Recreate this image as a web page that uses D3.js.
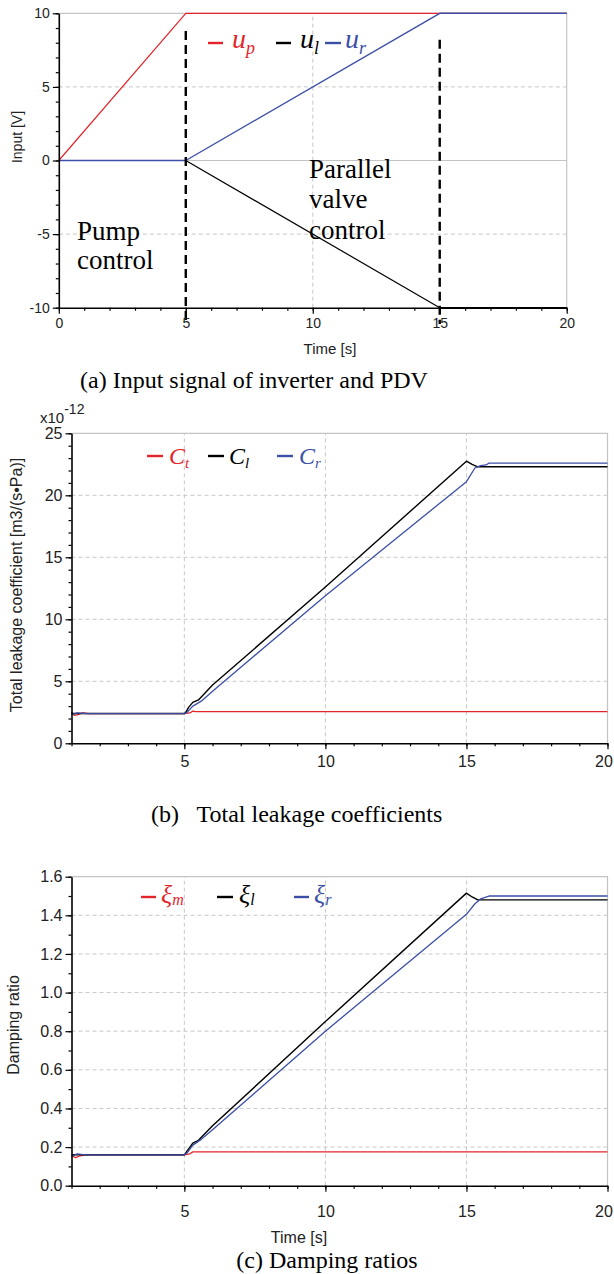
<!DOCTYPE html>
<html><head><meta charset="utf-8">
<script src="https://cdn.jsdelivr.net/npm/d3@7"></script>
<style>body{margin:0;background:#fff;} svg{display:block}</style>
</head><body><svg id="chart" width="614" height="1274"></svg>
<script>
// ---------------- DATA ----------------
// (a) input signals
const timeA = [0, 5, 15, 20];
const uP = [0, 10, 10, 10];
const uL = [0, 0, -10, -10];
const uR = [0, 0, 10, 10];
const dividerTimes = [5, 15];
const aXTicks = [0, 5, 10, 15, 20];
const aYTicks = [-10, -5, 0, 5, 10];

// (b) total leakage coefficients (x1e-12)
const ctTime = [1, 1.1, 1.2, 1.4, 1.6, 5, 5.2, 5.3, 5.4, 20];
const ctVal  = [2.5, 2.25, 2.3, 2.45, 2.4, 2.4, 2.45, 2.6, 2.55, 2.55];
const clTime = [1, 5, 5.05, 5.15, 5.3, 5.5, 6, 10, 15, 15.2, 15.4, 20];
const clVal  = [2.4, 2.4, 2.5, 2.9, 3.3, 3.5, 4.7, 12.6, 22.75, 22.5, 22.3, 22.3];
const crTime = [1, 1.2, 1.5, 5, 5.1, 5.3, 5.6, 6, 10, 15, 15.3, 15.5, 15.7, 15.8, 20];
const crVal  = [2.3, 2.45, 2.4, 2.4, 2.5, 3.0, 3.4, 4.2, 11.9, 21.1, 22.2, 22.4, 22.45, 22.6, 22.6];
const bXTicks = [5, 10, 15, 20];
const bYTicks = [0, 5, 10, 15, 20, 25];

// (c) damping ratios
const xmTime = [1, 1.15, 1.3, 1.5, 5, 5.2, 5.3, 20];
const xmVal  = [0.155, 0.145, 0.155, 0.16, 0.16, 0.165, 0.175, 0.175];
const xlTime = [1, 5, 5.1, 5.3, 5.5, 6, 10, 15, 15.2, 15.4, 20];
const xlVal  = [0.16, 0.16, 0.18, 0.22, 0.235, 0.31, 0.85, 1.515, 1.495, 1.48, 1.48];
const xrTime = [1, 1.2, 1.5, 5, 5.1, 5.3, 5.6, 6, 10, 15, 15.3, 15.5, 15.8, 20];
const xrVal  = [0.15, 0.165, 0.16, 0.16, 0.17, 0.21, 0.24, 0.29, 0.80, 1.405, 1.46, 1.485, 1.5, 1.5];
const cXTicks = [5, 10, 15, 20];
const cYTicks = [0, 0.2, 0.4, 0.6, 0.8, 1.0, 1.2, 1.4, 1.6];

// ---------------- DRAW ----------------
const RED = "#e3252b", BLACK = "#000", BLUE = "#3c4fa6";
const SANS = "'Liberation Sans Narrow','Arial Narrow','Liberation Sans',Arial,sans-serif";
const SERIF = "'Liberation Serif','Times New Roman',serif";
const svg = d3.select("#chart");
const W = 614;

function zip(t, v) { return t.map((d, i) => [d, v[i]]); }
const hyphen = f => d => f(d).replace("\u2212", "-");

function panel(o) {
  const x = d3.scaleLinear().domain(o.xd).range(o.xr);
  const y = d3.scaleLinear().domain(o.yd).range(o.yr);
  const g = svg.append("g");
  const X0 = o.xr[0], X1 = o.xr[1], Y0 = o.yr[0], Y1 = o.yr[1];
  g.append("path").attr("d", `M${X0},${Y1}H${X1}V${Y0}`)
    .attr("fill", "none").attr("stroke", "#c4c4c4").attr("stroke-width", 1.2);
  o.gridX.forEach(v => g.append("line").attr("x1", x(v)).attr("x2", x(v)).attr("y1", Y0).attr("y2", Y1)
    .attr("stroke", "#c8c8c8").attr("stroke-width", 1).attr("stroke-dasharray", "4,3"));
  o.gridY.forEach(v => g.append("line").attr("x1", X0).attr("x2", X1).attr("y1", y(v)).attr("y2", y(v))
    .attr("stroke", "#c8c8c8").attr("stroke-width", 1).attr("stroke-dasharray", "4,3"));
  (o.solidY || []).forEach(v => g.append("line").attr("x1", X0).attr("x2", X1).attr("y1", y(v)).attr("y2", y(v))
    .attr("stroke", "#c4c4c4").attr("stroke-width", 1.2));
  const line = d3.line().x(d => x(d[0])).y(d => y(d[1]));
  o.series.forEach(s => g.append("path").datum(s.data).attr("d", line)
    .attr("fill", "none").attr("stroke", s.color).attr("stroke-width", s.w || 1.3)
    .attr("stroke-linejoin", "round"));
  if (o.extra) o.extra(g, x, y);
  const minorX = d3.range(o.xd[0], o.xd[1] + 0.001, o.xMinor);
  const minorY = d3.range(o.yd[0], o.yd[1] + 1e-9, o.yMinor);
  const ax1 = g.append("g").attr("transform", `translate(0,${Y0})`)
    .call(d3.axisBottom(x).tickValues(minorX).tickSize(3).tickFormat(""));
  ax1.select(".domain").remove();
  const ay1 = g.append("g").attr("transform", `translate(${X0},0)`)
    .call(d3.axisLeft(y).tickValues(minorY).tickSize(3).tickFormat(""));
  ay1.select(".domain").remove();
  const ax = g.append("g").attr("transform", `translate(0,${Y0})`)
    .call(d3.axisBottom(x).tickValues(o.xTicks).tickSize(6).tickSizeOuter(0).tickPadding(o.xPad).tickFormat(hyphen(d3.format("d"))));
  const ay = g.append("g").attr("transform", `translate(${X0},0)`)
    .call(d3.axisLeft(y).tickValues(o.yTicks).tickSize(6).tickSizeOuter(0).tickPadding(3).tickFormat(hyphen(o.yFmt)));
  [ax, ay, ax1, ay1].forEach(a => {
    a.selectAll("line").attr("stroke", "#000").attr("stroke-width", 1.2);
    a.selectAll(".domain").attr("stroke", "#000").attr("stroke-width", 1.6);
    a.selectAll("text").attr("font-family", SANS).attr("font-size", o.fs).attr("fill", "#222");
  });
  // keep the last x label inside the page
  ax.selectAll(".tick text").each(function () {
    const bb = this.getBBox();
    const tx = +this.parentNode.getAttribute("transform").match(/translate\(([-\d.]+)/)[1];
    const over = tx + bb.x + bb.width - (W - 1);
    if (over > 0) d3.select(this).attr("x", -over);
  });
  o.legend.forEach(l => {
    g.append("line").attr("x1", l.x).attr("x2", l.x + l.len).attr("y1", l.y).attr("y2", l.y)
      .attr("stroke", l.color).attr("stroke-width", 2.4);
    const t = g.append("text").attr("x", l.x + l.len + l.gap).attr("y", l.y + l.dy)
      .attr("font-family", SERIF).attr("font-style", "italic").attr("fill", l.color);
    t.append("tspan").attr("font-size", l.fs).text(l.main);
    t.append("tspan").attr("font-size", l.sfs).attr("dy", l.sdy).text(l.sub);
  });
  return { x, y, g };
}

// ---- (a)
panel({
  xd: [0, 20], xr: [58.8, 566.7], yd: [-10, 10], yr: [307.7, 13.3],
  gridX: [10], gridY: [5, -5], solidY: [0],
  xTicks: aXTicks, yTicks: aYTicks, yFmt: d3.format("d"), xMinor: 1, yMinor: 1, fs: 14, xPad: 4,
  series: [
    { data: zip(timeA, uL), color: BLACK, w: 1.2 },
    { data: zip(timeA, uP), color: RED, w: 1.2 },
    { data: zip(timeA, uR), color: BLUE, w: 1.4 }
  ],
  extra: (g, x, y) => {
    dividerTimes.forEach((t, i) => g.append("line").attr("x1", x(t)).attr("x2", x(t))
      .attr("y1", y(i === 0 ? 8.8 : 8.2)).attr("y2", 324)
      .attr("stroke", "#000").attr("stroke-width", 2.4).attr("stroke-dasharray", "9,5"));
  },
  legend: [
    { x: 208, y: 43, len: 15, gap: 9, color: RED, main: "u", sub: "p", fs: 28, sfs: 18, dy: 5, sdy: 6 },
    { x: 276, y: 43, len: 15, gap: 9, color: BLACK, main: "u", sub: "l", fs: 28, sfs: 18, dy: 5, sdy: 6 },
    { x: 325, y: 43, len: 16, gap: 4, color: BLUE, main: "u", sub: "r", fs: 28, sfs: 18, dy: 5, sdy: 6 }
  ]
});
const ann = svg.append("g").attr("font-family", SERIF).attr("font-size", 27).attr("fill", "#000");
ann.append("text").attr("x", 77).attr("y", 240).text("Pump");
ann.append("text").attr("x", 77).attr("y", 269).text("control");
ann.append("text").attr("x", 309).attr("y", 178).text("Parallel");
ann.append("text").attr("x", 309).attr("y", 208).text("valve");
ann.append("text").attr("x", 309).attr("y", 239).text("control");
svg.append("text").attr("transform", "translate(22,137) rotate(-90)").attr("text-anchor", "middle")
  .attr("font-family", SANS).attr("font-size", 14).attr("fill", "#222").text("Input [V]");
svg.append("text").attr("x", 330).attr("y", 354).attr("text-anchor", "middle")
  .attr("font-family", SANS).attr("font-size", 15).attr("fill", "#222").text("Time [s]");
svg.append("text").attr("x", 80).attr("y", 388).attr("font-family", SERIF).attr("font-size", 24)
  .attr("fill", "#000").text("(a) Input signal of inverter and PDV");

// ---- (b)
panel({
  xd: [1, 20], xr: [71.5, 607.5], yd: [0, 25], yr: [743.3, 433.3],
  gridX: [5, 10, 15], gridY: [5, 10, 15, 20],
  xTicks: bXTicks, yTicks: bYTicks, yFmt: d3.format("d"), xMinor: 1, yMinor: 1, fs: 16, xPad: 6,
  series: [
    { data: zip(ctTime, ctVal), color: RED, w: 1.3 },
    { data: zip(clTime, clVal), color: BLACK, w: 1.4 },
    { data: zip(crTime, crVal), color: BLUE, w: 1.3 }
  ],
  legend: [
    { x: 147, y: 456, len: 16, gap: 6, color: RED, main: "C", sub: "t", fs: 24, sfs: 15, dy: 8, sdy: 4 },
    { x: 208, y: 456, len: 16, gap: 5, color: BLACK, main: "C", sub: "l", fs: 24, sfs: 15, dy: 8, sdy: 4 },
    { x: 277, y: 456, len: 16, gap: 6, color: BLUE, main: "C", sub: "r", fs: 24, sfs: 15, dy: 8, sdy: 4 }
  ]
});
const sc = svg.append("text").attr("x", 40).attr("y", 423).attr("font-family", SANS).attr("font-size", 15).attr("fill", "#222");
sc.append("tspan").text("x10");
sc.append("tspan").attr("dy", -9).attr("font-size", 14).text("-12");
svg.append("text").attr("transform", "translate(22,585) rotate(-90)").attr("text-anchor", "middle")
  .attr("font-family", SANS).attr("font-size", 16).attr("fill", "#222").text("Total leakage coefficient [m3/(s\u2022Pa)]");
svg.append("text").attr("x", 151).attr("y", 822).attr("font-family", SERIF).attr("font-size", 24)
  .attr("fill", "#000").style("white-space", "pre").text("(b)   Total leakage coefficients");

// ---- (c)
panel({
  xd: [1, 20], xr: [71.5, 607.5], yd: [0, 1.6], yr: [1185.7, 876.7],
  gridX: [5, 10, 15], gridY: [0.2, 0.4, 0.6, 0.8, 1.0, 1.2, 1.4],
  xTicks: cXTicks, yTicks: cYTicks, yFmt: d3.format(".1f"), xMinor: 1, yMinor: 0.1, fs: 16, xPad: 14,
  series: [
    { data: zip(xmTime, xmVal), color: RED, w: 1.3 },
    { data: zip(xlTime, xlVal), color: BLACK, w: 1.4 },
    { data: zip(xrTime, xrVal), color: BLUE, w: 1.3 }
  ],
  legend: [
    { x: 141, y: 897, len: 15, gap: 5, color: RED, main: "\u03BE", sub: "m", fs: 26, sfs: 16, dy: 6, sdy: 2 },
    { x: 217, y: 897, len: 16, gap: 6, color: BLACK, main: "\u03BE", sub: "l", fs: 26, sfs: 16, dy: 6, sdy: 2 },
    { x: 294, y: 897, len: 15, gap: 5, color: BLUE, main: "\u03BE", sub: "r", fs: 26, sfs: 16, dy: 6, sdy: 2 }
  ]
});
svg.append("text").attr("transform", "translate(19,1025) rotate(-90)").attr("text-anchor", "middle")
  .attr("font-family", SANS).attr("font-size", 16).attr("fill", "#222").text("Damping ratio");
svg.append("text").attr("x", 299).attr("y", 1243).attr("text-anchor", "middle")
  .attr("font-family", SANS).attr("font-size", 16).attr("fill", "#222").text("Time [s]");
svg.append("text").attr("x", 327).attr("y", 1268).attr("text-anchor", "middle").attr("font-family", SERIF).attr("font-size", 24)
  .attr("fill", "#000").text("(c) Damping ratios");
</script></body></html>
